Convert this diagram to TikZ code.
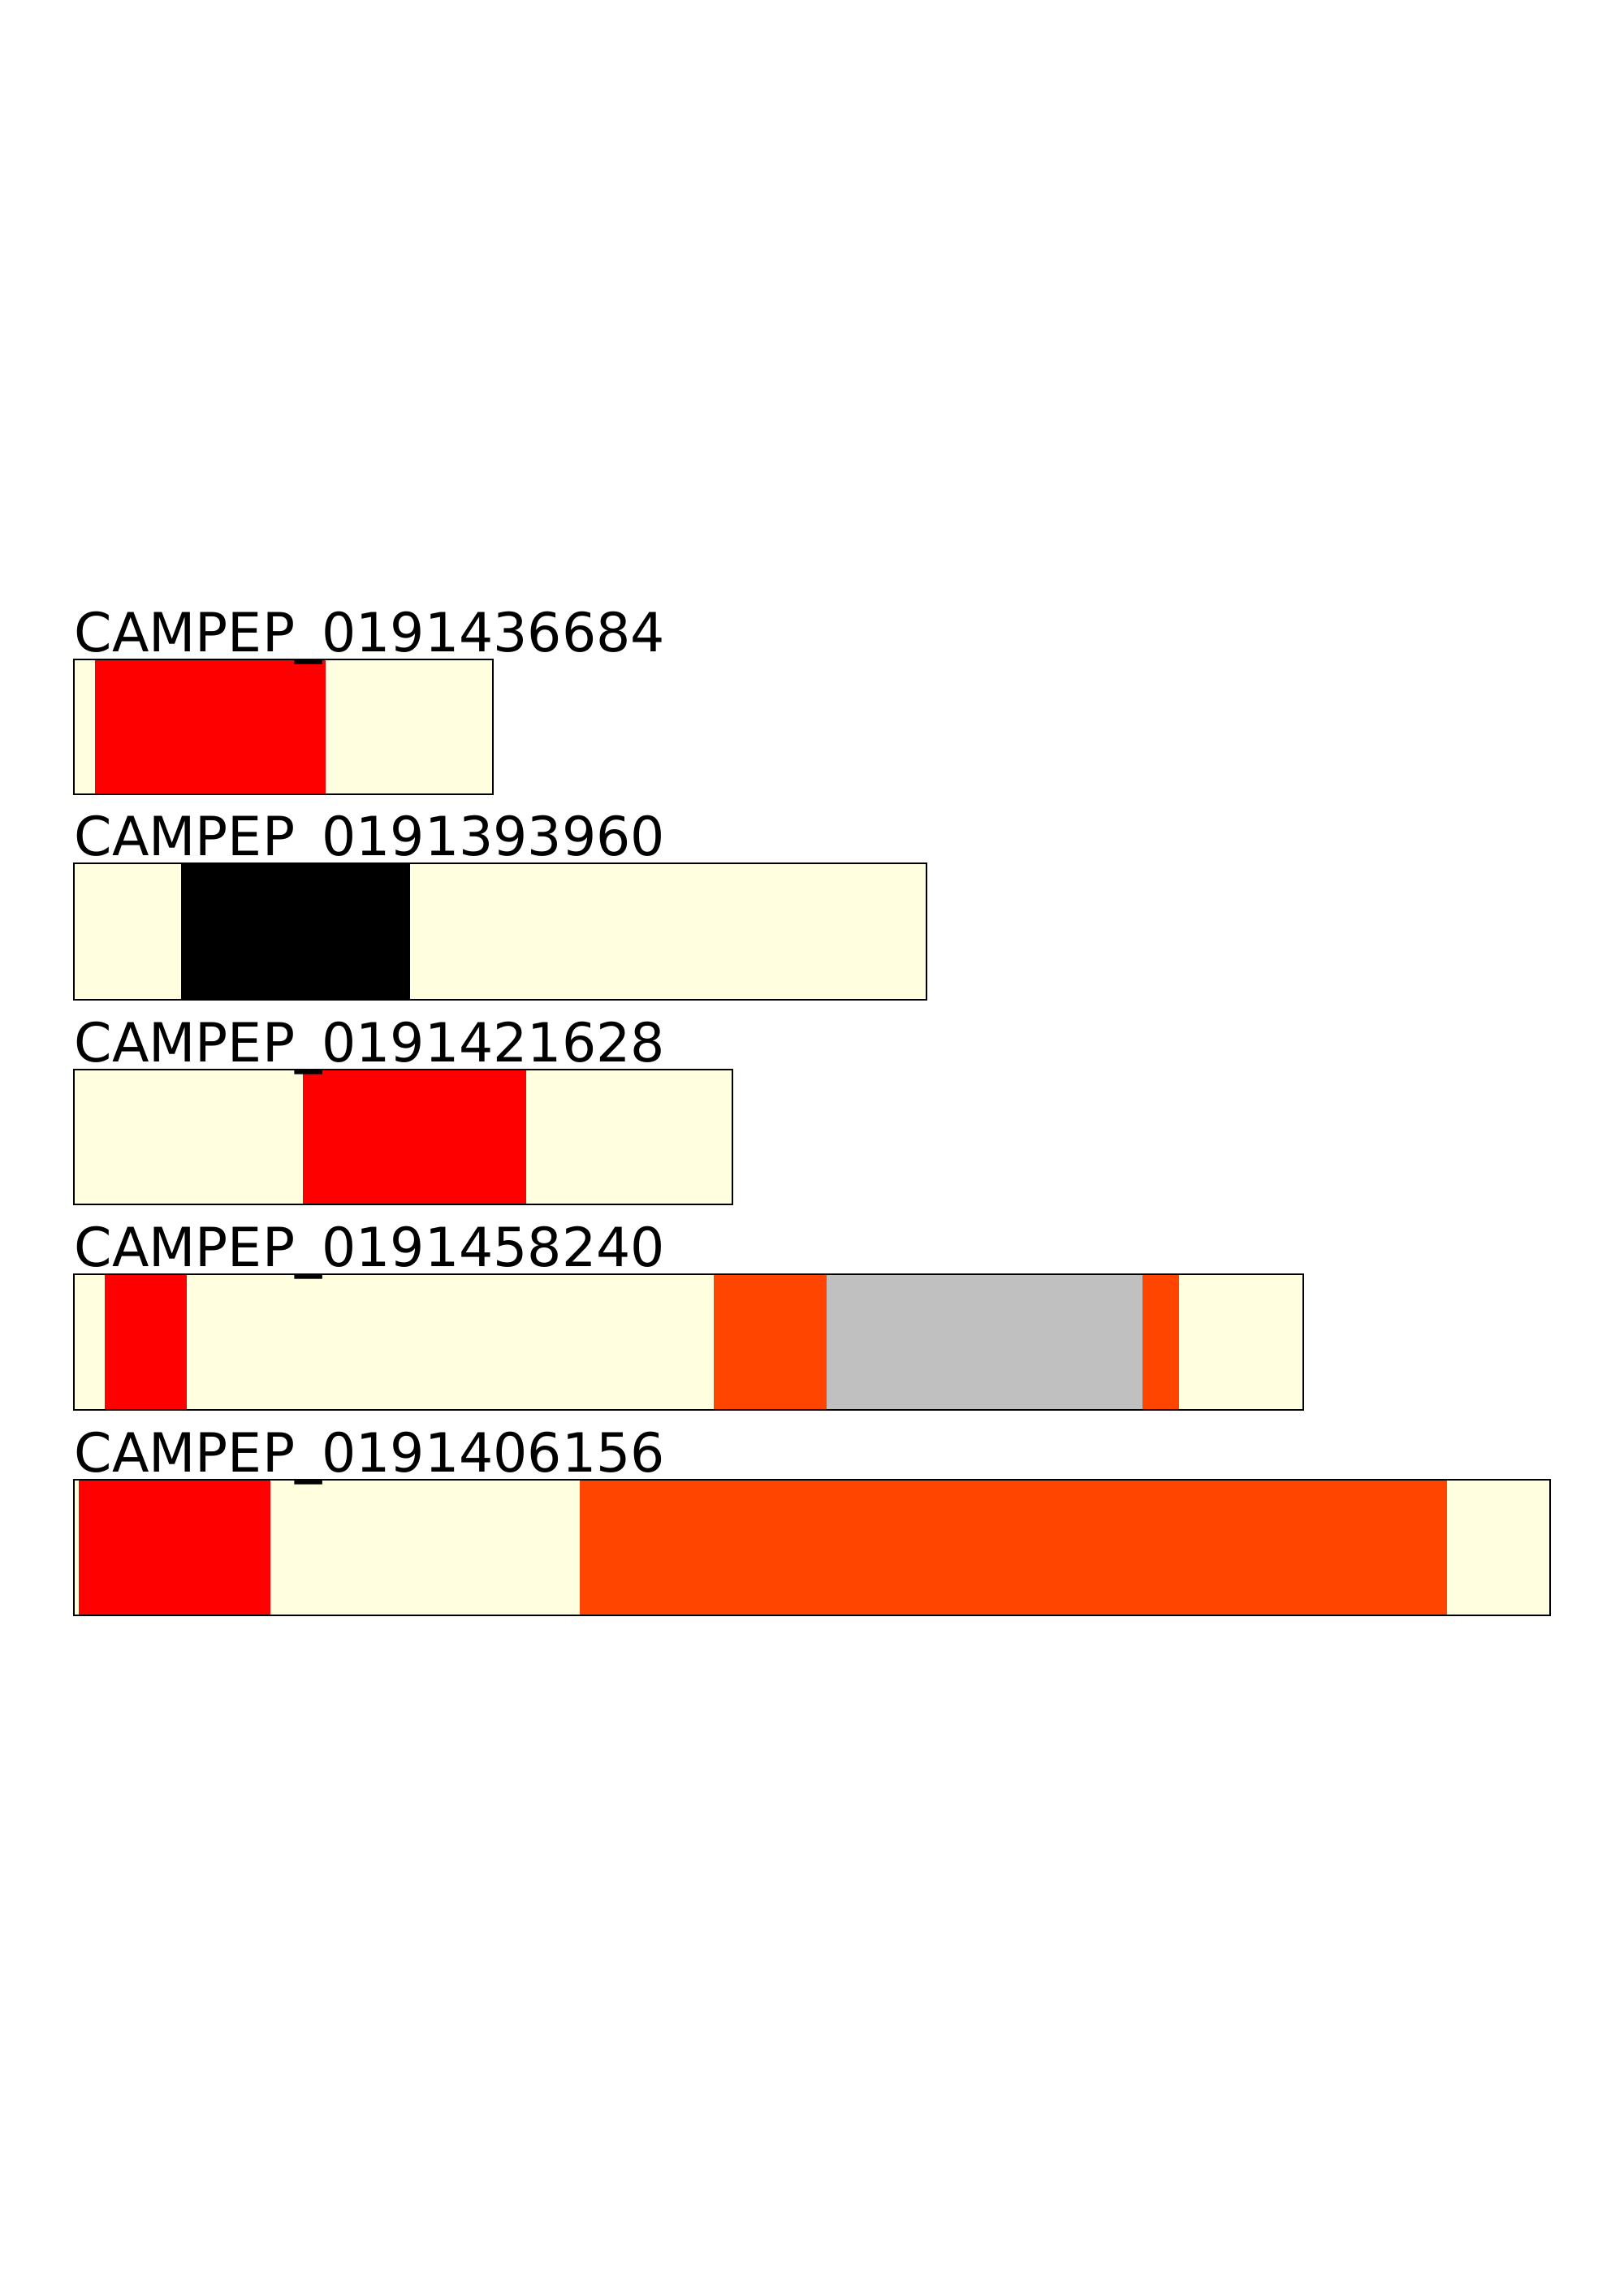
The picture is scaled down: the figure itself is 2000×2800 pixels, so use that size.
\documentclass[tikz,border=0pt]{standalone}
\usepackage{fontspec}
\setmainfont{DejaVu Sans}
\definecolor{cream}{HTML}{FFFFE0}
\definecolor{orred}{HTML}{FF4500}
\definecolor{silvergray}{HTML}{C0C0C0}
\begin{document}
\begin{tikzpicture}[x=0.01cm, y=-0.01cm,
    every node/.style={anchor=base west, inner sep=0pt, font=\fontsize{18.9}{22}\selectfont},
    frame/.style={draw=black, line width=0.8pt}]
  \useasboundingbox[fill=white] (0,0) rectangle (2000,2800);
  % Track 1
  \fill[cream] (91,812) rectangle (607,978);
  \fill[red] (117,812) rectangle (401,978);
  \draw[frame] (91,812) rectangle (607,978);
  % Track 2
  \fill[cream] (91,1063) rectangle (1141,1231);
  \fill[black] (223,1063) rectangle (505,1231);
  \draw[frame] (91,1063) rectangle (1141,1231);
  % Track 3
  \fill[cream] (91,1317) rectangle (902,1483);
  \fill[red] (373,1317) rectangle (648,1483);
  \draw[frame] (91,1317) rectangle (902,1483);
  % Track 4
  \fill[cream] (91,1569) rectangle (1605,1736);
  \fill[red] (129,1569) rectangle (230,1736);
  \fill[orred] (879,1569) rectangle (1018,1736);
  \fill[silvergray] (1018,1569) rectangle (1407,1736);
  \fill[orred] (1407,1569) rectangle (1452,1736);
  \draw[frame] (91,1569) rectangle (1605,1736);
  % Track 5
  \fill[cream] (91,1822) rectangle (1909,1989);
  \fill[red] (97,1822) rectangle (333,1989);
  \fill[orred] (714,1822) rectangle (1782,1989);
  \draw[frame] (91,1822) rectangle (1909,1989);
  % Labels
  \node (l1) at (91,802) {CAMPEP\_0191436684};
  \node (l2) at (91,1053) {CAMPEP\_0191393960};
  \node (l3) at (91,1307) {CAMPEP\_0191421628};
  \node (l4) at (91,1559) {CAMPEP\_0191458240};
  \node (l5) at (91,1812) {CAMPEP\_0191406156};
\end{tikzpicture}
\end{document}
